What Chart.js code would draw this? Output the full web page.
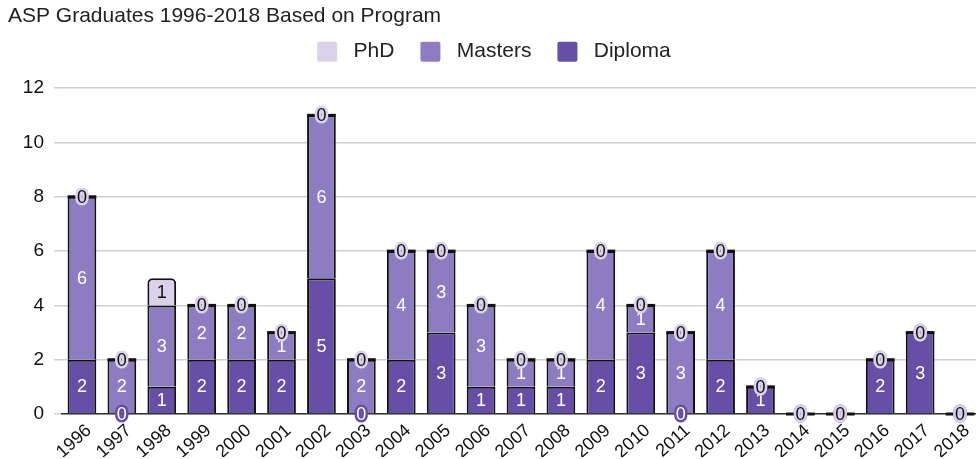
<!DOCTYPE html>
<html>
<head>
<meta charset="utf-8">
<script src="https://cdn.jsdelivr.net/npm/chart.js@4"></script>
<style>
  html, body { margin:0; padding:0; background:#fff; overflow:hidden; }
  #wrap { width:984px; height:459px; position:relative; }
</style>
</head>
<body>
<div id="wrap"><canvas id="c"></canvas></div>
<script>
const years = ['1996','1997','1998','1999','2000','2001','2002','2003','2004','2005','2006','2007',
               '2008','2009','2010','2011','2012','2013','2014','2015','2016','2017','2018'];
const diploma = [2,0,1,2,2,2,5,0,2,3,1,1,1,2,3,0,2,1,0,0,2,3,0];
const masters = [6,2,3,2,2,1,6,2,4,3,3,1,1,4,1,3,4,0,0,0,0,0,0];
const phd     = [0,0,1,0,0,0,0,0,0,0,0,0,0,0,0,0,0,0,0,0,0,0,0];

const FONT = '"Liberation Sans", Arial, Helvetica, sans-serif';
const C_DIP = '#674ea7', C_MAS = '#8e7cc3', C_PHD = '#d9d2e9';

// numbers inside each segment, plus the black dash for empty top segments
const segmentLabels = {
    id: 'segmentLabels',
    afterDatasetsDraw(chart){
        const ctx = chart.ctx;
        ctx.save();
        const topMeta = chart.getDatasetMeta(2);
        topMeta.data.forEach((bar, i) => {
            if(phd[i] !== 0) return;
            ctx.strokeStyle = '#111';
            ctx.lineWidth = 3;
            ctx.beginPath();
            ctx.moveTo(bar.x - bar.width/2, bar.y);
            ctx.lineTo(bar.x + bar.width/2, bar.y);
            ctx.stroke();
        });
        ctx.font = '18px ' + FONT;
        ctx.textAlign = 'center';
        ctx.textBaseline = 'middle';
        ctx.lineJoin = 'round';
        chart.data.datasets.forEach((ds, di) => {
            const meta = chart.getDatasetMeta(di);
            meta.data.forEach((bar, i) => {
                const v = ds.data[i];
                const y = (bar.y + bar.base) / 2 + 1;
                ctx.lineWidth = 5;
                ctx.strokeStyle = ds.backgroundColor;
                ctx.strokeText(String(v), bar.x, y);
                ctx.fillStyle = ds.labelColor;
                ctx.fillText(String(v), bar.x, y);
            });
        });
        ctx.restore();
    }
};

// extra room under the legend
const legendGap = {
    id: 'legendGap',
    beforeInit(chart){
        const fit = chart.legend.fit;
        chart.legend.fit = function(){
            fit.bind(chart.legend)();
            this.height += 16;
        };
    }
};

new Chart(document.getElementById('c'), {
    type: 'bar',
    data: {
        labels: years,
        datasets: [
            { label:'Diploma', data: diploma, backgroundColor: C_DIP, labelColor:'#fff',
              borderColor:'#111', borderWidth:2, borderSkipped:'start' },
            { label:'Masters', data: masters, backgroundColor: C_MAS, labelColor:'#fff',
              borderColor:'#111', borderWidth:2, borderSkipped:'start' },
            { label:'PhD', data: phd, backgroundColor: C_PHD, labelColor:'#111',
              borderColor:'#111', borderWidth:2, borderSkipped:'start',
              borderRadius:{topLeft:5, topRight:5, bottomLeft:0, bottomRight:0} }
        ]
    },
    options: {
        responsive: true,
        maintainAspectRatio: false,
        animation: false,
        layout: { padding: { left: 8, right: 4, top: 0, bottom: 2 } },
        plugins: {
            tooltip: { enabled:false },
            title: {
                display: true, text: 'ASP Graduates 1996-2018 Based on Program',
                align: 'start', color: '#222',
                font: { family: FONT, size: 21, weight: 'normal' },
                padding: { top: 4, bottom: -14 }
            },
            legend: {
                reverse: true,
                labels: {
                    boxWidth: 20, boxHeight: 20, useBorderRadius: true, borderRadius: 2,
                    color: '#222', padding: 26,
                    font: { family: FONT, size: 21 },
                    generateLabels(chart){
                        const items = Chart.defaults.plugins.legend.labels.generateLabels(chart);
                        items.forEach(it => { it.lineWidth = 0; it.strokeStyle = 'rgba(0,0,0,0)'; it.text = ' ' + it.text; });
                        return items;
                    }
                }
            }
        },
        scales: {
            x: {
                stacked: true,
                grid: { display:false, drawTicks:false, tickLength:0 },
                border: { display:true, color:'#333', width:1.5 },
                afterFit(scale){ scale.height = 43; },
                ticks: { color:'#111', font:{ family: FONT, size:18 }, minRotation:42, maxRotation:42,
                         padding:6, labelOffset:7 }
            },
            y: {
                stacked: true,
                min: 0, max: 12,
                afterFit(scale){ scale.width = 54; },
                grid: { color:'#d0d0d0', lineWidth:1.5, tickLength:8 },
                border: { display:false },
                ticks: { stepSize:2, color:'#111', font:{ family: FONT, size:19 }, padding:10 }
            }
        }
    },
    plugins: [segmentLabels, legendGap]
});
</script>
</body>
</html>
